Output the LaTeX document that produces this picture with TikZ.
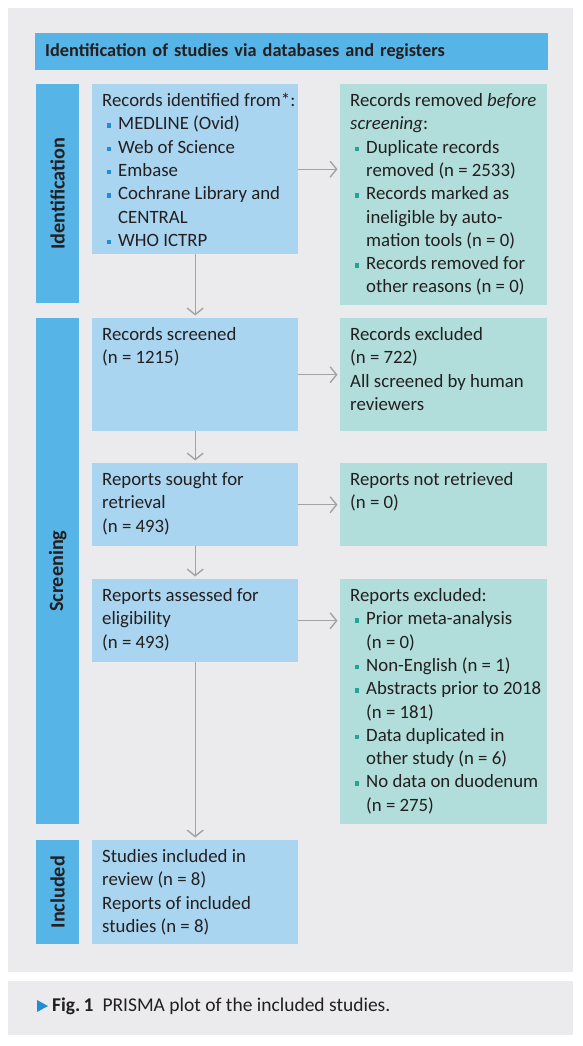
\documentclass[tikz,border=0pt]{standalone}
\usepackage{fontspec}
\setmainfont{Carlito}
\usetikzlibrary{arrows.meta}

\definecolor{panelgray}{HTML}{EBEBED}
\definecolor{headblue}{HTML}{56B4E6}
\definecolor{leftblue}{HTML}{A9D5F0}
\definecolor{rightmint}{HTML}{B1DEDA}
\definecolor{dotblue}{HTML}{1E8FD5}
\definecolor{dotteal}{HTML}{22A596}
\definecolor{arrowgray}{HTML}{A3A3A3}
\definecolor{txt}{HTML}{231F20}

% bullet item with hanging indent
\newcommand{\itm}[2]{\par\hangindent=16pt\hangafter=1\noindent\makebox[16pt][l]{\hspace{4.5pt}\textcolor{#1}{\rule[2pt]{4.6pt}{4.6pt}}}#2}
% text block of fixed height, set from the top
\newcommand{\boxtext}[3]{\makebox[#2][l]{\parbox[c][#1][t]{215pt}{\setlength{\parindent}{0pt}\raggedright\vspace*{6pt}\strut #3}}}

\begin{document}
\begin{tikzpicture}[x=1pt, y=-1pt, text=txt,
    font=\fontsize{18.8pt}{23.3pt}\selectfont,
    lbox/.style={fill=leftblue, anchor=north west, inner xsep=10pt, inner ysep=0pt, minimum width=206pt},
    rbox/.style={fill=rightmint, anchor=north west, inner xsep=10pt, inner ysep=0pt, minimum width=207pt},
    sidebar/.style={fill=headblue, anchor=north west, minimum width=43pt, inner sep=0pt},
    sidetext/.style={rotate=90, inner sep=0pt, font=\fontsize{20.2pt}{22pt}\selectfont\bfseries},
    arr/.style={draw=arrowgray, line width=1.4pt, shorten >=2.5pt, -{Straight Barb[length=6.5pt,width=16pt]}}]

      \useasboundingbox (0,0) rectangle (582,1046);
      \fill[panelgray] (8,8) rectangle (573,972);
      \fill[panelgray] (8,981) rectangle (573,1035);

      % header
      \node[fill=headblue, anchor=north west, minimum width=513pt, minimum height=37pt,
        inner xsep=10pt, text width=493pt, align=left,
        font=\fontsize{18.3pt}{20pt}\selectfont\bfseries] (head) at (35,33)
        {Identification of studies via databases and registers};

      % phase bars
      \node[sidebar, minimum height=219pt] (idbar) at (36,84) {};
      \node[sidetext] (idtext) at (idbar.center) {Identification};
      \node[sidebar, minimum height=506pt] (scbar) at (36,318) {};
      \node[sidetext] (sctext) at (scbar.center) {Screening};
      \node[sidebar, minimum height=104pt] (inbar) at (36,840) {};
      \node[sidetext] (intext) at (inbar.center) {Included};

      % main column
      \node[lbox] (rec) at (92,84) {\boxtext{170pt}{186pt}{Records identified from*:
        \itm{dotblue}{MEDLINE (Ovid)}
        \itm{dotblue}{Web of Science}
        \itm{dotblue}{Embase}
        \itm{dotblue}{Cochrane Library and\newline CENTRAL}
        \itm{dotblue}{WHO ICTRP}}};
      \node[lbox] (screened) at (92,318) {\boxtext{113pt}{186pt}{Records screened\\(n = 1215)}};
      \node[lbox] (sought) at (92,463) {\boxtext{83pt}{186pt}{Reports sought for\\retrieval\\(n = 493)}};
      \node[lbox] (assessed) at (92,579) {\boxtext{83pt}{186pt}{Reports assessed for\\eligibility\\(n = 493)}};
      \node[lbox] (included) at (92,840) {\boxtext{104pt}{186pt}{Studies included in\\review (n = 8)\\Reports of included\\studies (n = 8)}};

      % side column
      \node[rbox] (removed) at (340,84) {\boxtext{221pt}{187pt}{Records removed \textit{before}\\\textit{screening}:
        \itm{dotteal}{Duplicate records\newline removed (n = 2533)}
        \itm{dotteal}{Records marked as\newline ineligible by auto-\newline mation tools (n = 0)}
        \itm{dotteal}{Records removed for\newline other reasons (n = 0)}}};
      \node[rbox] (excluded) at (340,318) {\boxtext{113pt}{187pt}{Records excluded\\(n = 722)\\All screened by human\\reviewers}};
      \node[rbox] (notretr) at (340,463) {\boxtext{83pt}{187pt}{Reports not retrieved\\(n = 0)}};
      \node[rbox] (repexcl) at (340,579) {\boxtext{245pt}{187pt}{Reports excluded:
        \itm{dotteal}{Prior meta-analysis\newline (n = 0)}
        \itm{dotteal}{Non-English (n = 1)}
        \itm{dotteal}{Abstracts prior to 2018\newline (n = 181)}
        \itm{dotteal}{Data duplicated in\newline other study (n = 6)}
        \itm{dotteal}{No data on duodenum\newline (n = 275)}}};

      % flow
      \draw[arr] (rec.south) -- (screened.north);
      \draw[arr] (screened.south) -- (sought.north);
      \draw[arr] (sought.south) -- (assessed.north);
      \draw[arr] (assessed.south) -- (included.north);
      \draw[arr] (rec.east) -- (rec.east -| removed.west);
      \draw[arr] (screened.east) -- (screened.east -| excluded.west);
      \draw[arr] (sought.east) -- (sought.east -| notretr.west);
      \draw[arr] (assessed.east) -- (assessed.east -| repexcl.west);

      % caption
      \fill[dotblue] (37,1000) -- (48,1006) -- (37,1012) -- cycle;
      \node[anchor=west, inner sep=0pt, font=\fontsize{19.5pt}{21pt}\selectfont] (caption) at (52,1006)
        {\textbf{Fig.\,1}\hspace{9pt}PRISMA plot of the included studies.};

    \end{tikzpicture}
\end{document}
